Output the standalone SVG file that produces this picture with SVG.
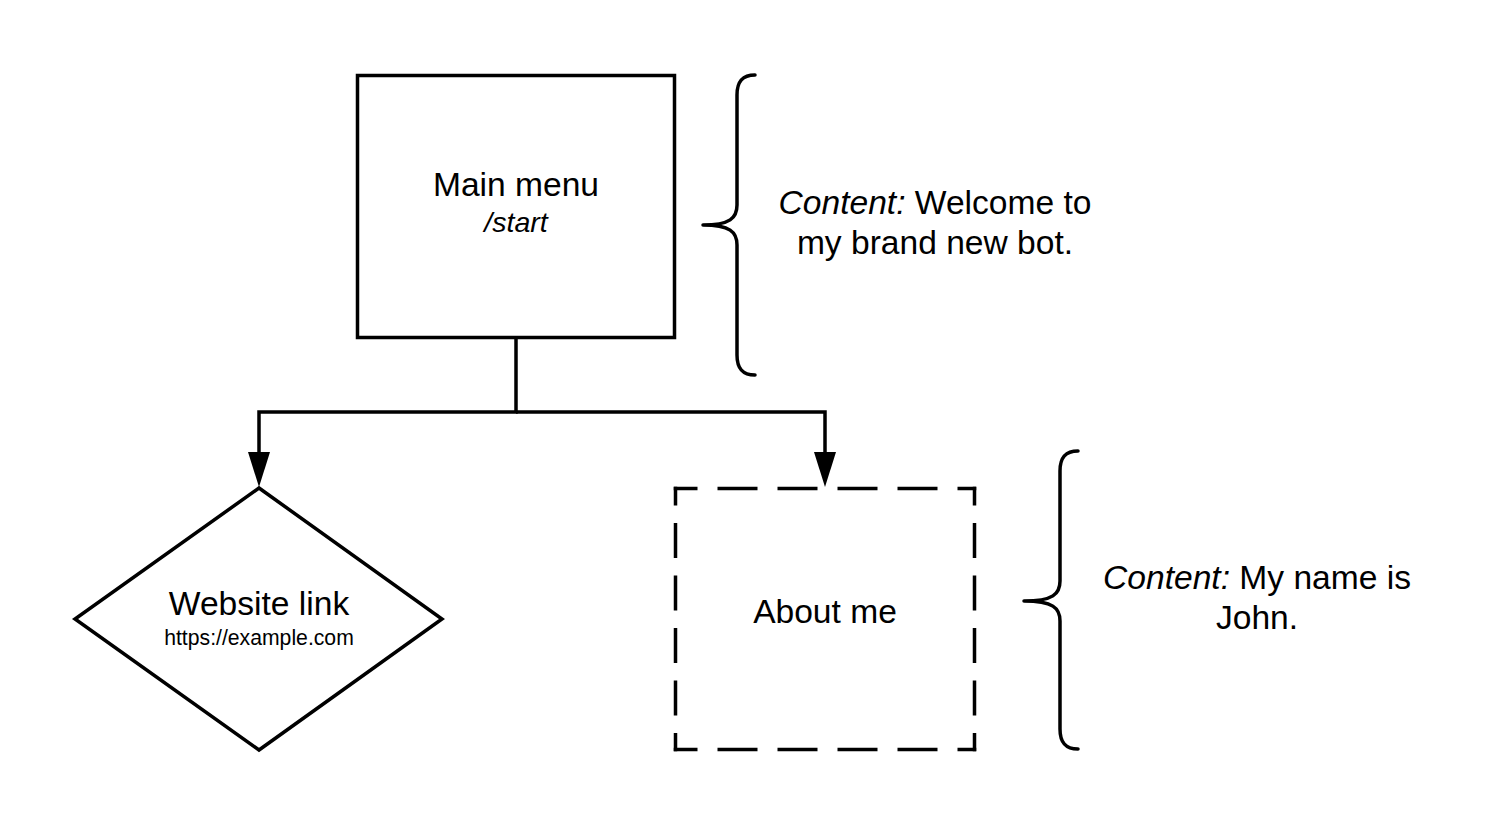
<svg xmlns="http://www.w3.org/2000/svg" width="1509" height="825" viewBox="0 0 1509 825">
<style>
.shape{fill:#fff;stroke:#000;stroke-width:3.5}
.brace{fill:none;stroke:#000;stroke-width:3.5;stroke-linecap:round;stroke-linejoin:round}
.conn{fill:none;stroke:#000;stroke-width:3.5}
.dh{stroke:#000;stroke-width:3.5;stroke-dasharray:40 20;stroke-dashoffset:16.25}
.dv{stroke:#000;stroke-width:3.5;stroke-dasharray:35 17.5;stroke-dashoffset:16.25}
text{font-family:"Liberation Sans",Arial,sans-serif;fill:#000;text-anchor:middle}
.lbl{font-size:33.6px}
.sub{font-size:28.5px;font-style:italic}
.url{font-size:21.2px}
.note{font-size:33.6px}
.it{font-style:italic}
</style>
<rect width="1509" height="825" fill="#fff"/>
<g id="connectors">
<path class="conn" d="M516,338 V412 H259 V454"/>
<path class="conn" d="M516,412 H825 V454"/>
<path d="M248,452 L270,452 L259,487 Z" fill="#000"/>
<path d="M814,452 L836,452 L825,487 Z" fill="#000"/>
</g>
<g id="main-menu">
<rect class="shape" x="357.5" y="75.5" width="317" height="262"/>
<text class="lbl" x="516" y="196">Main menu</text>
<text class="sub" x="516" y="232">/start</text>
</g>
<g id="website-link">
<polygon class="shape" points="259,488 442,619 259,750 75,619"/>
<text class="lbl" x="259" y="615">Website link</text>
<text class="url" x="259" y="645">https://example.com</text>
</g>
<g id="about-me">
<rect x="675.5" y="488.5" width="299" height="261" fill="#fff"/>
<line class="dh" x1="673.75" y1="488.5" x2="976.25" y2="488.5"/>
<line class="dh" x1="673.75" y1="749.5" x2="976.25" y2="749.5"/>
<line class="dv" x1="675.5" y1="486.75" x2="675.5" y2="751.25"/>
<line class="dv" x1="974.5" y1="486.75" x2="974.5" y2="751.25"/>
<text class="lbl" x="825" y="623">About me</text>
</g>
<g id="note-main">
<path class="brace" d="M755,75 C742,75 737,82 737,95 L737,205 C737,218 730,225 703,225 C730,225 737,232 737,245 L737,355 C737,368 742,375 755,375"/>
<text class="note" x="935" y="214"><tspan class="it">Content:</tspan> Welcome to</text>
<text class="note" x="935" y="254">my brand new bot.</text>
</g>
<g id="note-about">
<path class="brace" d="M1078,451 C1065,451 1060,458 1060,471 L1060,581 C1060,594 1053,601 1024,601 C1053,601 1060,608 1060,621 L1060,729 C1060,742 1065,749 1078,749"/>
<text class="note" x="1257" y="589"><tspan class="it">Content:</tspan> My name is</text>
<text class="note" x="1257" y="629">John.</text>
</g>
</svg>
